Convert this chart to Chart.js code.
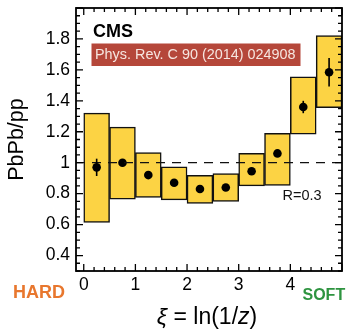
<!DOCTYPE html>
<html><head><meta charset="utf-8">
<script src="https://cdn.jsdelivr.net/npm/chart.js@4.4.0/dist/chart.umd.min.js"></script>
<style>html,body{margin:0;padding:0;background:#fff}#wrap{width:351px;height:329px;position:relative}</style>
</head><body><div id="wrap"><canvas id="c"></canvas></div>
<script>
// ---- data ----
const xiCenters = [0.25, 0.75, 1.25, 1.75, 2.25, 2.75, 3.25, 3.75, 4.25, 4.75];
const ratio     = [0.97, 1.00, 0.92, 0.87, 0.83, 0.84, 0.945, 1.06, 1.36, 1.585];
const statErr   = [0.056, 0.015, 0.015, 0.015, 0.015, 0.015, 0.015, 0.02, 0.04, 0.092];
const sysHigh   = [1.32, 1.23, 1.065, 0.973, 0.919, 0.93, 1.061, 1.19, 1.555, 1.822];
const sysLow    = [0.614, 0.765, 0.775, 0.76, 0.737, 0.75, 0.85, 0.853, 1.184, 1.356];
const xTickValues = [0, 1, 2, 3, 4];
const yTickValues = [0.4, 0.6, 0.8, 1.0, 1.2, 1.4, 1.6, 1.8];
const yTitle = 'PbPb/pp';
const refText = 'Phys. Rev. C 90 (2014) 024908';

const FONT = "'Liberation Sans', Arial, Helvetica, sans-serif";

const framePlugin = {
  id: 'frame',
  afterDatasetsDraw(chart) {
    const {ctx, chartArea: a, scales: {x, y}} = chart;
    ctx.save();
    // dashed reference line at 1
    const y1 = y.getPixelForValue(1);
    ctx.setLineDash([9, 7]);
    ctx.lineWidth = 1.3;
    ctx.strokeStyle = '#111';
    ctx.beginPath(); ctx.moveTo(a.left, y1); ctx.lineTo(a.right, y1); ctx.stroke();
    ctx.setLineDash([]);
    // statistical error bars
    ctx.lineWidth = 1.6;
    ctx.strokeStyle = '#000';
    xiCenters.forEach((xc, i) => {
      const px = x.getPixelForValue(xc);
      ctx.beginPath();
      ctx.moveTo(px, y.getPixelForValue(ratio[i] - statErr[i]));
      ctx.lineTo(px, y.getPixelForValue(ratio[i] + statErr[i]));
      ctx.stroke();
    });
    // inward ticks on all four sides
    ctx.lineWidth = 1.3;
    ctx.beginPath();
    for (let k = 0; k <= 25; k++) {
      const v = k * 0.2;
      const px = x.getPixelForValue(v);
      const len = (k % 5 === 0) ? 7 : 4;
      ctx.moveTo(px, a.bottom); ctx.lineTo(px, a.bottom - len);
      ctx.moveTo(px, a.top); ctx.lineTo(px, a.top + len);
    }
    for (let k = 6; k <= 40; k++) {
      const v = k * 0.05;
      const py = y.getPixelForValue(v);
      const len = (k % 4 === 0) ? 7 : 4;
      ctx.moveTo(a.left, py); ctx.lineTo(a.left + len, py);
      ctx.moveTo(a.right, py); ctx.lineTo(a.right - len, py);
    }
    ctx.stroke();
    // frame
    ctx.lineWidth = 1.8;
    ctx.strokeRect(a.left, a.top, a.right - a.left, a.bottom - a.top);
    ctx.restore();
  },
  afterDraw(chart) {
    const {ctx, chartArea: a} = chart;
    ctx.save();
    ctx.textBaseline = 'alphabetic';
    ctx.textAlign = 'left';
    // CMS
    ctx.fillStyle = '#000';
    ctx.font = 'bold 18px ' + FONT;
    ctx.fillText('CMS', 93, 36.5);
    // reference box
    ctx.fillStyle = '#B5473A';
    ctx.fillRect(91.5, 43.5, 209, 22.5);
    ctx.fillStyle = '#F6E6E0';
    ctx.font = '14.4px ' + FONT;
    ctx.textBaseline = 'middle';
    ctx.fillText(refText, 95, 55.5);
    ctx.textBaseline = 'alphabetic';
    // R=0.3
    ctx.fillStyle = '#111';
    ctx.font = '14.5px ' + FONT;
    ctx.fillText('R=0.3', 282.5, 200);
    // HARD / SOFT
    ctx.fillStyle = '#E8772E';
    ctx.font = 'bold 18px ' + FONT;
    ctx.fillText('HARD', 13, 298);
    ctx.fillStyle = '#2E9440';
    ctx.font = 'bold 16px ' + FONT;
    ctx.fillText('SOFT', 302.5, 300);
    // x title with italic symbols
    const parts = [['\u03BE', true], [' = ln(1/', false], ['z', true], [')', false]];
    const fs = 23;
    let total = 0;
    parts.forEach(p => { ctx.font = (p[1] ? 'italic ' : '') + fs + 'px ' + FONT; total += ctx.measureText(p[0]).width; });
    let cx = (a.left + a.right) / 2 - 2 - total / 2;
    ctx.fillStyle = '#000';
    ctx.textBaseline = 'alphabetic';
    parts.forEach(p => {
      ctx.font = (p[1] ? 'italic ' : '') + fs + 'px ' + FONT;
      ctx.fillText(p[0], cx, 324);
      cx += ctx.measureText(p[0]).width;
    });
    ctx.restore();
  }
};

new Chart(document.getElementById('c'), {
  type: 'bar',
  data: {
    datasets: [
      {
        type: 'scatter',
        data: xiCenters.map((x, i) => ({x, y: ratio[i]})),
        pointRadius: 4.3,
        pointHoverRadius: 4.3,
        pointBackgroundColor: '#000',
        pointBorderWidth: 0,
        order: 0
      },
      {
        type: 'bar',
        data: xiCenters.map((x, i) => ({x, y: [sysLow[i], sysHigh[i]]})),
        backgroundColor: '#FCD344',
        borderColor: '#111',
        borderWidth: 1.5,
        borderSkipped: false,
        barPercentage: 1.0,
        categoryPercentage: 1.0,
        grouped: false,
        order: 1
      }
    ]
  },
  options: {
    responsive: true,
    maintainAspectRatio: false,
    animation: false,
    devicePixelRatio: 1,
    layout: {padding: {top: 8, right: 9, left: 0, bottom: 0}},
    plugins: {legend: {display: false}, tooltip: {enabled: false}},
    scales: {
      x: {
        type: 'linear',
        offset: false,
        min: -0.15,
        max: 5.0,
        grid: {display: false, drawTicks: false},
        border: {display: false},
        afterBuildTicks: s => { s.ticks = xTickValues.map(v => ({value: v})); },
        afterFit: s => { s.height = 58; s.paddingLeft = 0; s.paddingRight = 0; },
        ticks: {
          padding: 4,
          color: '#000',
          font: {family: FONT, size: 17.5},
          maxRotation: 0,
          autoSkip: false,
          callback: v => String(v)
        }
      },
      y: {
        type: 'linear',
        min: 0.3,
        max: 2.0,
        grid: {display: false, drawTicks: false},
        border: {display: false},
        afterBuildTicks: s => { s.ticks = yTickValues.map(v => ({value: v})); },
        afterFit: s => { s.width = 76; s.paddingTop = 0; s.paddingBottom = 0; },
        ticks: {
          padding: 6,
          color: '#000',
          font: {family: FONT, size: 17.5},
          autoSkip: false,
          callback: v => (Math.abs(v - 1) < 1e-9 ? '1' : v.toFixed(1))
        },
        title: {
          display: true,
          text: yTitle,
          color: '#000',
          font: {family: FONT, size: 21.5},
          padding: {top: 4, bottom: 0}
        }
      }
    }
  },
  plugins: [framePlugin]
});
</script>
</body></html>
